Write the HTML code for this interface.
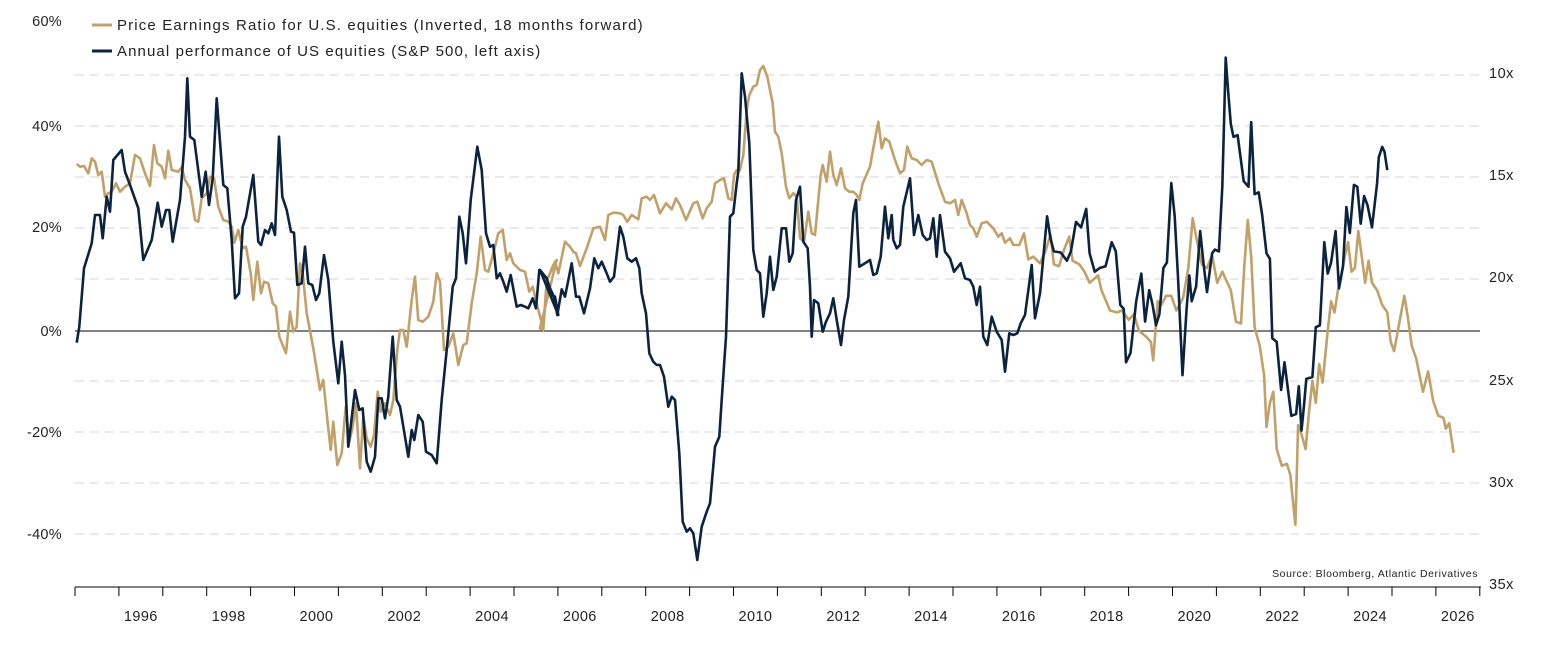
<!DOCTYPE html>
<html><head><meta charset="utf-8"><style>
html,body{margin:0;padding:0;background:#fff;}
svg{display:block;font-family:"Liberation Sans",sans-serif;}
</style></head><body>
<svg id="c" width="1555" height="661" viewBox="0 0 1555 661" xmlns="http://www.w3.org/2000/svg">
<g stroke="#d6d6d6" stroke-width="1" stroke-dasharray="9,6">
<line x1="75" x2="1480" y1="75" y2="75"/><line x1="75" x2="1480" y1="126" y2="126"/>
<line x1="75" x2="1480" y1="177" y2="177"/><line x1="75" x2="1480" y1="228" y2="228"/>
<line x1="75" x2="1480" y1="279" y2="279"/><line x1="75" x2="1480" y1="381" y2="381"/>
<line x1="75" x2="1480" y1="432" y2="432"/><line x1="75" x2="1480" y1="483" y2="483"/>
<line x1="75" x2="1480" y1="534" y2="534"/>
</g>
<line x1="75" x2="1480" y1="331" y2="331" stroke="#000" stroke-width="1"/>
<line x1="75" x2="1481" y1="587" y2="587" stroke="#000" stroke-width="1"/>
<g id="ticks" stroke="#000" stroke-width="1"></g>
<g font-size="14.5" fill="#222" text-anchor="end" letter-spacing="0.3">
<text x="62" y="26">60%</text><text x="62" y="131">40%</text><text x="62" y="232">20%</text>
<text x="62" y="336">0%</text><text x="62" y="437">-20%</text><text x="62" y="539">-40%</text>
</g>
<g font-size="14.5" fill="#222" letter-spacing="0.5">
<text x="1489" y="78">10x</text><text x="1489" y="180">15x</text><text x="1489" y="282">20x</text>
<text x="1489" y="385">25x</text><text x="1489" y="487">30x</text><text x="1489" y="589">35x</text>
</g>
<g font-size="14.5" fill="#222" text-anchor="middle" id="years" letter-spacing="0.4"></g>
<text x="1478" y="577" font-size="10.5" fill="#222" text-anchor="end" letter-spacing="0.55">Source: Bloomberg, Atlantic Derivatives</text>
<line x1="92" x2="112" y1="25" y2="25" stroke="#c1a06a" stroke-width="3"/>
<text x="117" y="30" font-size="15" fill="#222" letter-spacing="1.15">Price Earnings Ratio for U.S. equities (Inverted, 18 months forward)</text>
<line x1="92" x2="112" y1="51" y2="51" stroke="#0c2340" stroke-width="3"/>
<text x="117" y="56" font-size="15" fill="#222" letter-spacing="1.1">Annual performance of US equities (S&amp;P 500, left axis)</text>
<path id="gold" fill="none" stroke="#c1a06a" stroke-width="2.6" stroke-linejoin="round"/>
<path id="navy" fill="none" stroke="#0c2340" stroke-width="2.6" stroke-linejoin="round"/>
</svg>
<script>
var NS="http://www.w3.org/2000/svg";
var t=document.getElementById('ticks'),yr=document.getElementById('years');
for(var i=0;i<=32;i++){var x=75+i*43.9;var l=document.createElementNS(NS,'line');l.setAttribute('x1',x);l.setAttribute('x2',x);l.setAttribute('y1',587);l.setAttribute('y2',596);t.appendChild(l);}
for(var y=1996;y<=2026;y+=2){var x=75+(y-1995+0.5)*43.9;var e=document.createElementNS(NS,'text');e.setAttribute('x',x);e.setAttribute('y',621);e.textContent=y;yr.appendChild(e);}
function z12(a,ox,oy){var r=[];for(var i=0;i<a.length;i+=2)r.push([ox+a[i]/3,oy+a[i+1]/3]);return r;}
function z3(a){var r=[];for(var i=0;i<a.length;i+=2)r.push([1041+(a[i]-72)/2.94,73+(a[i+1]-62)/2.707]);return r;}
var n1=[50,848,58,800,72,625,95,550,105,465,120,465,128,535,140,410,150,455,160,300,185,270,195,335,210,375,235,445,250,600,275,540,293,428,305,500,318,450,328,450,338,545,360,420,375,230,382,55,390,230,403,240,425,410,437,335,447,435,458,355,470,115,490,375,502,385,515,540,525,715,537,700,548,500,558,470,580,345,595,545,603,555,615,510,625,520,635,490,645,525,657,230,667,410,680,450,693,515,702,518,712,675,725,670,735,560,745,670,757,675,768,720,778,700,792,585,805,660,820,845,835,970,845,845,855,945,865,1160,885,990,898,1050,908,1045,920,1205,932,1235,945,1190,955,1015,965,1015,975,1075,985,1010,998,830,1010,1020,1020,1040,1045,1190,1055,1110,1063,1140,1075,1065,1088,1085,1098,1175,1115,1185,1130,1210,1145,1020,1160,870,1178,680,1188,655,1198,470,1208,520,1218,610,1232,420,1252,260,1265,330,1278,520,1290,560,1300,555,1310,655,1320,640,1330,665,1340,695,1352,645,1370,740,1382,735,1395,740,1405,745,1418,715,1428,745,1438,630,1460,655,1475,705,1485,710,1495,765];
var g1=[50,312,60,320,72,318,85,340,95,295,105,305,115,345,125,335,135,410,145,400,155,395,168,370,180,395,195,380,210,370,225,285,240,295,255,340,270,378,282,255,292,310,305,320,315,355,325,272,335,330,355,335,365,322,375,360,390,385,405,480,415,485,425,415,440,400,450,350,462,355,475,440,490,480,505,485,515,500,523,548,535,510,548,565,558,560,572,640,580,720,592,605,603,700,612,665,625,670,638,730,648,740,658,830,678,880,690,755,700,815,710,800,720,610,728,640,740,760,760,865,772,940,780,990,790,960,803,1090,812,1170,820,1085,832,1215,845,1180,857,1040,868,1145,878,1100,888,1030,900,1225,910,1070,920,1135,932,1160,942,1125,953,995,962,1055,975,1030,990,1065,1000,1020,1012,870,1020,810,1030,810,1040,860,1055,720,1065,650,1075,780,1088,785,1105,770,1120,725,1130,640,1140,665,1152,870,1165,860,1180,820,1195,915,1210,855,1220,850,1235,730,1250,640,1262,530,1275,630,1285,635,1300,580,1315,520,1328,510,1340,600,1350,580,1360,610,1380,630,1395,635,1408,695,1418,680,1435,750,1450,805,1462,660,1480,615,1490,600];
var n2=[0,630,20,655,30,685,42,710,52,765,65,688,75,710,95,610,108,710,118,710,132,760,150,685,163,595,175,625,185,605,200,640,210,665,222,650,240,500,250,530,262,595,275,605,288,595,298,625,305,700,318,760,328,880,340,905,350,915,360,915,372,950,385,1040,395,1010,405,1020,418,1180,428,1385,440,1415,450,1405,460,1420,472,1500,485,1400,500,1355,510,1330,525,1160,538,1130,545,1020,558,830,570,470,580,460,590,370,595,335,600,190,605,40,615,110,628,250,640,570,650,630,660,640,670,770,680,700,690,590,700,690,710,650,725,505,738,505,748,605,758,580,768,420,780,380,790,545,803,565,810,680,815,830,822,720,835,730,848,815,858,785,870,760,880,715,890,780,903,855,912,780,925,710,940,460,948,420,958,620,975,610,990,600,1000,645,1010,640,1022,590,1035,440,1045,535,1055,465,1060,540,1070,565,1080,555,1090,440,1110,355,1122,525,1135,465,1148,525,1160,540,1170,535,1180,475,1190,590,1200,465,1215,575,1230,595,1242,635,1262,610,1275,655,1290,660,1300,680,1310,735,1320,680,1330,830,1342,855,1355,770,1370,815,1385,840,1395,935,1408,820,1420,825,1432,820,1442,790,1455,765,1475,615,1485,775,1500,700];
var g2=[0,805,10,810,20,660,35,630,45,605,55,640,75,545,90,560,100,575,108,580,120,618,140,565,160,505,180,500,195,540,205,465,220,458,240,460,250,465,262,485,275,465,295,478,305,415,320,410,330,420,342,405,360,460,378,430,395,448,408,415,420,435,438,480,460,430,472,425,488,475,500,445,515,425,525,370,540,360,552,355,565,415,575,420,582,345,590,330,600,330,610,285,620,150,628,105,640,80,650,75,660,30,670,18,682,50,698,130,705,215,715,230,725,280,738,380,748,415,760,400,770,410,780,535,792,545,805,455,815,520,825,525,835,420,842,345,848,315,860,365,870,275,880,345,890,375,903,325,915,385,928,395,940,395,950,405,958,420,968,370,990,320,1000,265,1015,185,1025,265,1035,235,1048,245,1065,300,1080,340,1092,330,1102,260,1115,295,1130,300,1145,315,1160,300,1175,305,1195,370,1215,425,1230,430,1245,420,1255,465,1265,420,1280,460,1290,495,1300,505,1310,530,1325,490,1340,485,1360,505,1375,530,1385,520,1395,548,1410,535,1420,555,1438,555,1452,520,1465,598,1480,590,1500,610];
var n3=[90,450,100,510,110,545,130,548,148,570,160,545,175,465,190,480,205,430,215,550,230,600,245,590,262,585,280,520,292,545,305,690,315,700,322,845,335,820,352,680,367,605,378,735,390,650,400,690,410,745,420,715,432,590,442,575,455,360,465,450,475,620,488,880,500,700,508,610,515,680,528,640,540,490,550,580,560,655,575,550,583,540,595,545,605,370,610,200,615,20,622,110,630,200,638,235,650,230,668,355,682,370,690,195,700,390,712,385,722,445,735,550,745,565,752,780,765,790,778,920,788,845,808,990,822,985,830,910,838,1030,845,965,852,890,870,885,880,750,892,745,905,520,915,605,925,575,938,490,948,645,960,585,970,425,980,495,992,365,1002,370,1012,470,1022,395,1032,420,1045,480,1060,360,1065,290,1075,262,1082,275,1090,325];
var g3=[85,545,100,500,110,580,125,585,140,540,155,505,165,570,185,580,200,600,215,630,240,610,250,650,275,705,295,710,310,705,330,730,345,715,360,760,380,775,395,790,402,840,415,680,425,690,440,665,455,665,470,705,490,670,505,590,518,455,530,515,545,580,560,590,575,555,590,630,605,600,620,630,630,650,645,735,660,740,670,580,680,460,690,560,700,750,715,800,728,880,735,1020,745,955,755,925,765,1080,780,1125,795,1120,805,1150,812,1215,820,1285,828,1015,838,1040,850,1080,860,980,870,895,880,955,890,850,900,900,915,760,925,680,935,710,945,650,955,610,965,560,975,520,985,600,995,590,1005,490,1018,580,1025,630,1035,570,1045,630,1060,650,1075,690,1090,710,1100,790,1110,815,1125,740,1140,665,1150,720,1162,800,1175,835,1195,925,1210,870,1225,950,1240,990,1255,995,1262,1025,1272,1010,1285,1090];
function d(p){return 'M'+p.map(function(q){return q[0].toFixed(1)+','+q[1].toFixed(1)}).join('L');}
document.getElementById('navy').setAttribute('d',d(z12(n1,60,60).concat(z12(n2,540,60)).concat(z3(n3))));
document.getElementById('gold').setAttribute('d',d(z12(g1,60,60).concat(z12(g2,540,60)).concat(z3(g3))));
</script>
</body></html>
